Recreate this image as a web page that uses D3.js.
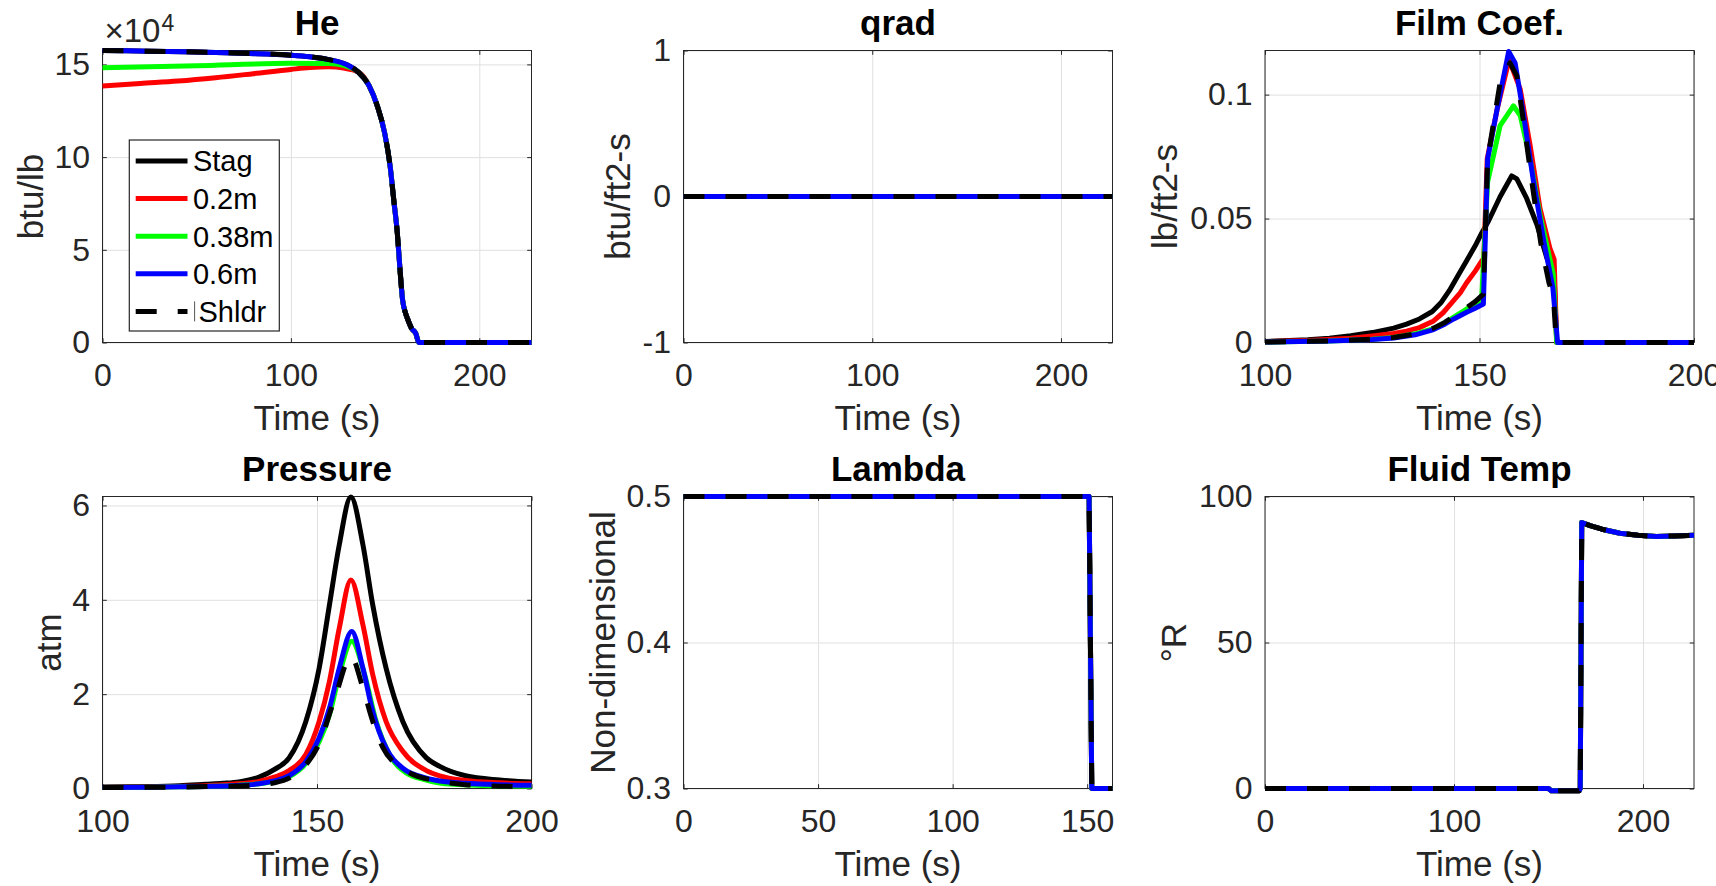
<!DOCTYPE html>
<html><head><meta charset="utf-8">
<script src="https://cdn.jsdelivr.net/npm/d3@7"></script>
<style>
html,body{margin:0;padding:0;background:#fff;}
svg{display:block;}
</style></head><body>
<svg id="chart" width="1716" height="886"></svg>
<script>
// ---------------- DATA ----------------
const seriesNames = ["Stag", "0.2m", "0.38m", "0.6m", "Shldr"];
const seriesColors = ["#000000", "#ff0000", "#00ff00", "#0000ff", "#000000"];
const seriesDashed = [false, false, false, false, true];

// He (btu/lb), time in s
const heTail = [[135.6,146000],[141.3,138900],[146,127200],[149.8,112800],[152.7,94800],[154.6,76800],[156.5,58800],[157.8,40800],[159.3,22800],[160.8,16000],[162.2,12000],[164.1,7500],[166.3,4900],[167.9,0],[227.7,0]];
const heStagHead = [[0,157500],[25,157100],[50,156700],[75,156000],[100,155000],[110,154100],[120,152600],[130,149700]];
const he02Head = [[0,138300],[20,139700],[40,141000],[60,142800],[80,145000],[100,147300],[110,148300],[120,148700],[128,148000]];
const he038Head = [[0,148200],[50,149300],[100,150600],[120,150500],[128,149500]];
const heStag = heStagHead.concat(heTail);
const he02 = he02Head.concat(heTail);
const he038 = he038Head.concat(heTail);
const he06 = heStagHead.concat(heTail);
const heShldr = heStagHead.concat(heTail);

// qrad (btu/ft2-s)
const qradAll = [[0,0],[227.3,0]];

// Film Coef. (lb/ft2-s)
const filmStag = [[100,0.0004],[110,0.0011],[115,0.0017],[120,0.0027],[125,0.0040],[130,0.0058],[133,0.0074],[136,0.0095],[139,0.0125],[141,0.016],[143,0.021],[145,0.027],[147,0.033],[149,0.039],[150.5,0.0441],[152.1,0.049],[154.8,0.0588],[157.5,0.0672],[158.7,0.066],[161,0.0581],[163.4,0.0475],[165.7,0.0341],[167.4,0.0261],[168,0],[200,0]];
const film02 = [[100,0.0003],[110,0.0008],[120,0.0017],[125,0.0026],[130,0.0036],[133,0.0046],[136,0.006],[139.3,0.0087],[141.5,0.012],[143.9,0.0168],[145.5,0.020],[147,0.0241],[149,0.0288],[150.5,0.0328],[151,0.034],[151.8,0.0741],[154.1,0.094],[156.9,0.1141],[159.5,0.1021],[161.8,0.0795],[164.1,0.0541],[166.4,0.0381],[167.4,0.0335],[168,0],[200,0]];
const film038 = [[100,0.0002],[115,0.0006],[125,0.0013],[130,0.0020],[135,0.0035],[139.3,0.0056],[142,0.0080],[144,0.0102],[147,0.0135],[149,0.0155],[150.5,0.0175],[151.9,0.0648],[154.8,0.0875],[157.9,0.0955],[159.5,0.0915],[161.8,0.0741],[164.1,0.0515],[167.2,0.0275],[168,0],[200,0]];
const film06 = [[100,0.0002],[115,0.0006],[125,0.0012],[130,0.0018],[135,0.0031],[139.3,0.0052],[142,0.0075],[144,0.0095],[147,0.0122],[149,0.0138],[150.9,0.0155],[151.9,0.0741],[154.1,0.0941],[156.8,0.1174],[158.3,0.1128],[160.3,0.0915],[162.6,0.0648],[165,0.0408],[167.1,0.0221],[168.2,0],[200,0]];
const filmShldr = [[100,0.0002],[115,0.0006],[125,0.0013],[130,0.0020],[135,0.0035],[139.3,0.0058],[142,0.0082],[144,0.0106],[147,0.0140],[149,0.0165],[150.9,0.0195],[151.9,0.074],[154.8,0.1048],[157.1,0.1128],[158.7,0.1075],[160.6,0.085],[162.6,0.06],[164.3,0.040],[166.2,0.024],[167.2,0.019],[167.9,0],[200,0]];

// Pressure (atm)
const presStag = [[100,0.03],[110,0.04],[118,0.06],[124,0.09],[128,0.11],[131.8,0.14],[136.5,0.24],[140,0.4],[143.5,0.65],[147.4,1.42],[150.5,2.55],[152.9,3.89],[155.2,5.17],[157.9,6.18],[160.7,5.17],[163,3.89],[166.1,2.55],[170,1.42],[175.5,0.65],[178.6,0.47],[184.6,0.27],[192.6,0.18],[200,0.14]];
const pres02 = [[100,0.02],[110,0.03],[118,0.045],[124,0.06],[130,0.09],[136.5,0.15],[140,0.24],[143.5,0.38],[147.4,0.72],[150.5,1.42],[152.9,2.27],[155.2,3.4],[157.9,4.42],[160.7,3.47],[163,2.41],[166.1,1.42],[170,0.79],[175.5,0.38],[178.6,0.27],[184.6,0.17],[192.6,0.12],[200,0.1]];
const pres038 = [[100,0.02],[110,0.025],[118,0.035],[124,0.045],[130,0.06],[136.5,0.1],[140,0.15],[143.5,0.25],[147.4,0.53],[150.5,0.99],[152.9,1.56],[155.2,2.41],[158.1,3.12],[161.1,2.41],[163.8,1.42],[166.9,0.72],[170.8,0.33],[175.5,0.18],[180,0.1],[190,0.06],[200,0.05]];
const pres06 = [[100,0.02],[110,0.025],[118,0.035],[124,0.045],[130,0.06],[136.5,0.1],[140,0.16],[143.5,0.27],[147.4,0.57],[150.5,1.07],[152.9,1.7],[155.2,2.55],[158.1,3.33],[160.7,2.55],[163,1.63],[166.1,0.86],[170,0.43],[175.5,0.22],[178.6,0.16],[184.6,0.11],[192.6,0.08],[200,0.07]];
const presShldr = [[100,0.02],[110,0.025],[118,0.03],[124,0.04],[130,0.05],[136.5,0.08],[140,0.12],[143.5,0.22],[147.4,0.5],[150.5,0.95],[154.4,1.99],[157.9,2.8],[160.7,2.13],[163,1.42],[165.4,0.86],[168.5,0.5],[171.6,0.33],[178.6,0.15],[184.6,0.08],[192.6,0.05],[200,0.04]];

// Lambda (non-dimensional)
const lambdaAll = [[0,0.5],[150.7,0.5],[151.7,0.3],[159.4,0.3]];

// Fluid Temp (°R)
const fluidAll = [[0,0],[150,0],[151.5,-0.8],[166.2,-0.8],[166.8,0],[167.6,91.1],[172,90],[178.3,88.8],[187.8,87.4],[197.4,86.7],[207,86.3],[216.5,86.5],[227,86.7]];

// Tick values
const heXTicks = [0,100,200], heYTicks = [0,50000,100000,150000];
const qradXTicks = [0,100,200], qradYTicks = [-1,0,1];
const filmXTicks = [100,150,200], filmYTicks = [0,0.05,0.1];
const presXTicks = [100,150,200], presYTicks = [0,2,4,6];
const lambdaXTicks = [0,50,100,150], lambdaYTicks = [0.3,0.4,0.5];
const fluidXTicks = [0,100,200], fluidYTicks = [0,50,100];

// ---------------- LAYOUT ----------------
const FONT = '"Liberation Sans", Arial, Helvetica, sans-serif';
const colLeft = [102.5, 683.5, 1265];
const rowTop = [50.5, 496.5];
const PW = 429, PH = 292;
const TICK = 4.3;
const LW = 5;
const DASH = "21,21";
const AX = "#262626";

const panels = [
  {title:"He", ylabel:"btu/lb", xd:[0,227.7], yd:[0,157500], xt:heXTicks, yt:heYTicks, yfmt:v=>String(v/1e4),
   data:[heStag,he02,he038,he06,heShldr], curve:d3.curveMonotoneX, col:0,row:0, ylab:-59.6, exp:true},
  {title:"qrad", ylabel:"btu/ft2-s", xd:[0,227.3], yd:[-1,1], xt:qradXTicks, yt:qradYTicks, yfmt:v=>String(v),
   data:[qradAll,qradAll,qradAll,qradAll,qradAll], curve:d3.curveLinear, col:1,row:0, ylab:-53.8},
  {title:"Film Coef.", ylabel:"lb/ft2-s", xd:[100,200], yd:[0,0.1178], xt:filmXTicks, yt:filmYTicks, yfmt:v=>String(v),
   data:[filmStag,film02,film038,film06,filmShldr], curve:d3.curveLinear, col:2,row:0, ylab:-87.8},
  {title:"Pressure", ylabel:"atm", xd:[100,200], yd:[0,6.19], xt:presXTicks, yt:presYTicks, yfmt:v=>String(v),
   data:[presStag,pres02,pres038,pres06,presShldr], curve:d3.curveMonotoneX, col:0,row:1, ylab:-41.8},
  {title:"Lambda", ylabel:"Non-dimensional", xd:[0,159.4], yd:[0.3,0.5], xt:lambdaXTicks, yt:lambdaYTicks, yfmt:v=>String(v),
   data:[lambdaAll,lambdaAll,lambdaAll,lambdaAll,lambdaAll], curve:d3.curveLinear, col:1,row:1, ylab:-68.8},
  {title:"Fluid Temp", ylabel:"\u00B0R", xd:[0,227], yd:[0,100], xt:fluidXTicks, yt:fluidYTicks, yfmt:v=>String(v),
   data:[fluidAll,fluidAll,fluidAll,fluidAll,fluidAll], curve:d3.curveLinear, col:2,row:1, ylab:-78.7}
];

const svg = d3.select("#chart");
svg.append("rect").attr("width",1716).attr("height",886).attr("fill","#fff");

function styleAxis(sel) {
  sel.attr("font-family", FONT).attr("font-size", 32);
  sel.select(".domain").remove();
  sel.selectAll(".tick line").attr("stroke", AX).attr("stroke-width", 1);
  sel.selectAll(".tick text").attr("fill", AX);
}

panels.forEach(p => {
  const L = colLeft[p.col], T = rowTop[p.row];
  const g = svg.append("g").attr("transform", `translate(${L},${T})`);
  const x = d3.scaleLinear().domain(p.xd).range([0, PW]);
  const y = d3.scaleLinear().domain(p.yd).range([PH, 0]);

  // grid
  const gx = g.append("g").attr("transform", `translate(0,${PH})`)
    .call(d3.axisBottom(x).tickValues(p.xt).tickSize(-PH).tickFormat(""));
  gx.select(".domain").remove();
  gx.selectAll("line").attr("stroke", "#e0e0e0").attr("stroke-width", 1);
  const gy = g.append("g")
    .call(d3.axisLeft(y).tickValues(p.yt).tickSize(-PW).tickFormat(""));
  gy.select(".domain").remove();
  gy.selectAll("line").attr("stroke", "#e0e0e0").attr("stroke-width", 1);

  // box
  g.append("rect").attr("x",0).attr("y",0).attr("width",PW).attr("height",PH)
    .attr("fill","none").attr("stroke",AX).attr("stroke-width",1);

  // axes
  g.append("g").attr("transform", `translate(0,${PH})`)
    .call(d3.axisBottom(x).tickValues(p.xt).tickFormat(v=>String(v)).tickSize(-TICK).tickPadding(20.5))
    .call(s=>styleAxis(s));
  g.append("g")
    .call(d3.axisTop(x).tickValues(p.xt).tickFormat("").tickSize(-TICK))
    .call(s=>styleAxis(s));
  g.append("g")
    .call(d3.axisLeft(y).tickValues(p.yt).tickFormat(p.yfmt).tickSize(-TICK).tickPadding(12.5))
    .call(s=>styleAxis(s));
  g.append("g").attr("transform", `translate(${PW},0)`)
    .call(d3.axisRight(y).tickValues(p.yt).tickFormat("").tickSize(-TICK))
    .call(s=>styleAxis(s));

  // data lines
  const line = d3.line().x(d=>x(d[0])).y(d=>y(d[1])).curve(p.curve);
  p.data.forEach((arr, i) => {
    g.append("path").datum(arr).attr("d", line)
      .attr("fill","none").attr("stroke", seriesColors[i]).attr("stroke-width", LW)
      .attr("stroke-linejoin","round")
      .attr("stroke-dasharray", seriesDashed[i] ? DASH : null);
  });

  // title
  g.append("text").attr("x", PW/2).attr("y", -15.5).attr("text-anchor","middle")
    .attr("font-family", FONT).attr("font-size", 35).attr("font-weight","bold").attr("fill","#000")
    .text(p.title);
  // x label
  g.append("text").attr("x", PW/2).attr("y", PH + 87.5).attr("text-anchor","middle")
    .attr("font-family", FONT).attr("font-size", 35).attr("fill", AX).text("Time (s)");
  // y label
  g.append("text").attr("transform", `translate(${p.ylab},${PH/2}) rotate(-90)`).attr("text-anchor","middle")
    .attr("font-family", FONT).attr("font-size", 35).attr("fill", AX).text(p.ylabel);

  if (p.exp) {
    g.append("text").attr("x", 2).attr("y", -9).attr("font-family", FONT).attr("font-size", 33)
      .attr("fill", AX).text("\u00D710");
    g.append("text").attr("x", 59).attr("y", -20).attr("font-family", FONT).attr("font-size", 23)
      .attr("fill", AX).text("4");
  }

  if (p.col === 0 && p.row === 0) {
    // legend
    const lg = svg.append("g");
    const bx = 129.3, by = 140, bw = 150, bh = 191;
    lg.append("rect").attr("x",bx).attr("y",by).attr("width",bw).attr("height",bh)
      .attr("fill","#fff").attr("stroke",AX).attr("stroke-width",1.2);
    seriesNames.forEach((name, i) => {
      const yy = 161 + i*37.6;
      lg.append("line").attr("x1",135.7).attr("x2",187.5).attr("y1",yy).attr("y2",yy)
        .attr("stroke", seriesColors[i]).attr("stroke-width", LW)
        .attr("stroke-dasharray", seriesDashed[i] ? DASH : null);
      const tx = seriesDashed[i] ? 198.5 : 192.9;
      lg.append("text").attr("x", tx).attr("y", yy).attr("dy","0.36em")
        .attr("font-family", FONT).attr("font-size", 29).attr("fill","#000").text(name);
      if (seriesDashed[i]) {
        lg.append("line").attr("x1",194.6).attr("x2",194.6).attr("y1",yy-10).attr("y2",yy+10)
          .attr("stroke","#555").attr("stroke-width",1);
      }
    });
  }
});
</script></body></html>
